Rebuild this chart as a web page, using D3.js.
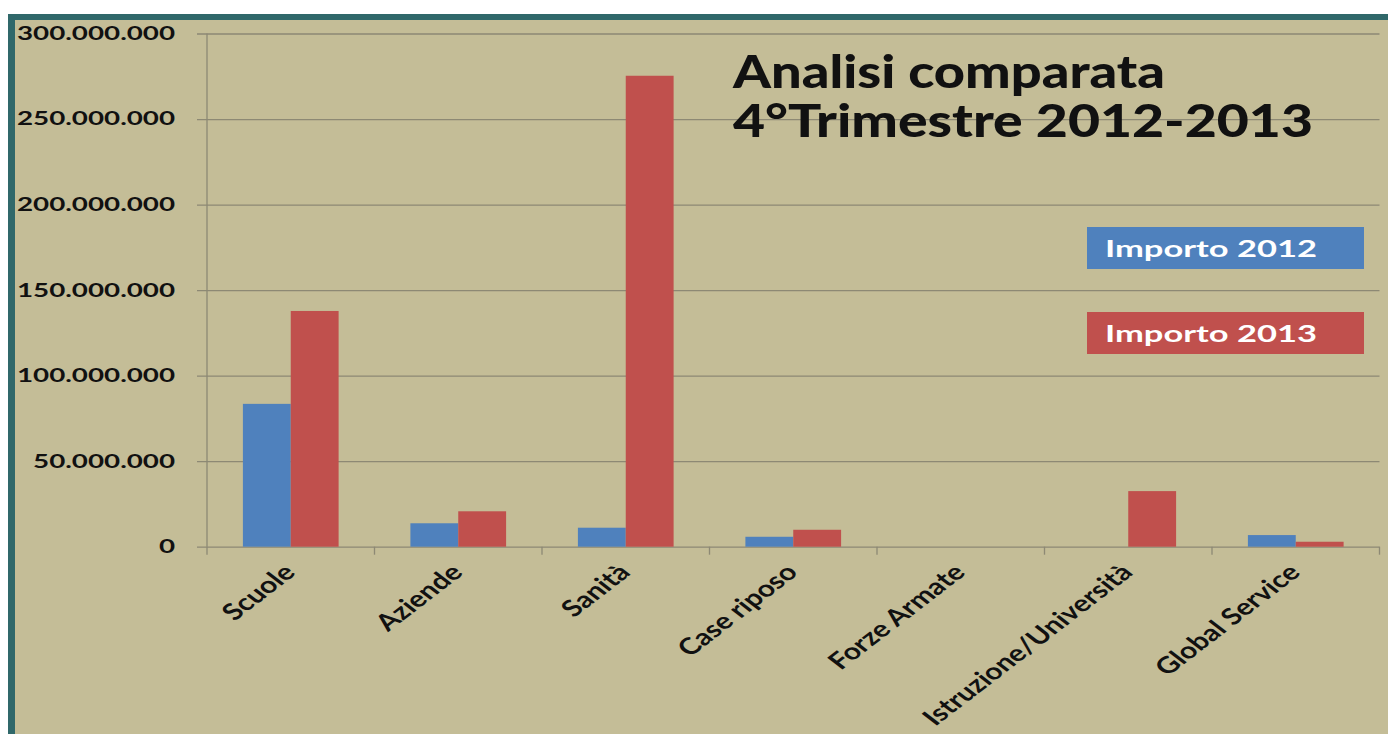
<!DOCTYPE html>
<html>
<head>
<meta charset="utf-8">
<script src="https://cdn.jsdelivr.net/npm/d3@7"></script>
<style>
  body { margin: 0; background: #fff; }
  text { font-family: Lato, "Open Sans", sans-serif; font-weight: bold; }
</style>
</head>
<body>
<div id="chart"></div>
<script>
// data
var categories = ["Scuole", "Aziende", "Sanità", "Case riposo", "Forze Armate", "Istruzione/Università", "Global Service"];
var importo2012 = [83500000, 13700000, 11100000, 5800000, 0, 0, 6800000];
var importo2013 = [137800000, 20700000, 275300000, 9900000, 0, 32500000, 2900000];
var seriesNames = ["Importo 2012", "Importo 2013"];
var seriesColors = ["#4f81bd", "#c0504d"];
var yTicks = [0, 50000000, 100000000, 150000000, 200000000, 250000000, 300000000];
var titleLines = ["Analisi comparata", "4°Trimestre 2012-2013"];

var W = 1388, H = 734;
var plot = {left: 207, right: 1379.5, top: 33.5, bottom: 546.7};
var stretch = 1.5;

var svg = d3.select("#chart").append("svg")
    .attr("width", W)
    .attr("height", H);

// frame
svg.append("rect").attr("x", 8).attr("y", 14).attr("width", W - 8).attr("height", H - 14).attr("fill", "#30686a");
svg.append("rect").attr("x", 15).attr("y", 20).attr("width", W - 15).attr("height", H - 20).attr("fill", "#c4bd97");

var x = d3.scaleBand().domain(categories).range([plot.left, plot.right]);
var xs = d3.scaleBand().domain(seriesNames).range([0, x.bandwidth()]).paddingOuter(0.75);
var y = d3.scaleLinear().domain([0, 300000000]).range([plot.bottom, plot.top]);

var it = d3.formatLocale({decimal: ",", thousands: ".", grouping: [3], currency: ["", ""]});
var fmt = it.format(",d");

// gridlines
var grid = svg.append("g")
    .attr("transform", "translate(" + (plot.left - 10) + ",0)")
    .call(d3.axisLeft(y).tickValues(yTicks).tickSize(-(plot.right - plot.left + 10)).tickFormat(""));
grid.select(".domain").remove();
grid.selectAll("line").attr("stroke", "#8d8974").attr("stroke-width", 1.3);

// y axis line
svg.append("line")
    .attr("x1", plot.left).attr("x2", plot.left)
    .attr("y1", y(300000000)).attr("y2", y(0))
    .attr("stroke", "#8d8974").attr("stroke-width", 1.3);

// y labels
var yAxis = svg.append("g")
    .attr("transform", "translate(175,0)")
    .call(d3.axisLeft(y).tickValues(yTicks).tickSize(0).tickPadding(0).tickFormat(fmt));
yAxis.select(".domain").remove();
yAxis.selectAll("text")
    .attr("fill", "#111")
    .style("font-size", "18.5px")
    .attr("transform", "scale(" + stretch + ",1)");

// x tick marks at category boundaries
svg.append("g").selectAll("line")
    .data(d3.range(categories.length + 1))
  .enter().append("line")
    .attr("x1", function(i) { return x.range()[0] + i * x.step(); })
    .attr("x2", function(i) { return x.range()[0] + i * x.step(); })
    .attr("y1", y(0))
    .attr("y2", y(0) + 8)
    .attr("stroke", "#8d8974").attr("stroke-width", 1.3);

// bars
var series = [importo2012, importo2013];
series.forEach(function(vals, s) {
  svg.append("g").selectAll("rect")
      .data(vals)
    .enter().append("rect")
      .attr("x", function(d, i) { return x(categories[i]) + xs(seriesNames[s]); })
      .attr("width", xs.bandwidth())
      .attr("y", function(d) { return y(d); })
      .attr("height", function(d) { return y(0) - y(d); })
      .attr("fill", seriesColors[s]);
});

// category labels
svg.append("g").selectAll("text")
    .data(categories)
  .enter().append("text")
    .attr("transform", function(d) {
      return "translate(" + (x(d) + x.bandwidth() / 2 + 6) + "," + (y(0) + 27) + ") scale(1.3,1) rotate(-45)";
    })
    .attr("text-anchor", "end")
    .style("font-size", "23px")
    .attr("fill", "#111")
    .text(function(d) { return d; });

// legend
var legend = svg.append("g").selectAll("g")
    .data(seriesNames)
  .enter().append("g")
    .attr("transform", function(d, i) { return "translate(1087," + (227 + i * 85) + ")"; });
legend.append("rect")
    .attr("width", 277).attr("height", 42)
    .attr("fill", function(d, i) { return seriesColors[i]; });
legend.append("text")
    .attr("transform", "translate(18,30) scale(" + stretch + ",1)")
    .style("font-size", "23px")
    .attr("fill", "#fff")
    .text(function(d) { return d; });

// title
svg.append("g").selectAll("text")
    .data(titleLines)
  .enter().append("text")
    .attr("x", 733)
    .attr("y", function(d, i) { return 88 + i * 49; })
    .style("font-size", "46px")
    .style("font-weight", 900)
    .attr("fill", "#111")
    .attr("textLength", function(d, i) { return i === 0 ? 432 : 580; })
    .attr("lengthAdjust", "spacingAndGlyphs")
    .text(function(d) { return d; });
</script>
</body>
</html>
